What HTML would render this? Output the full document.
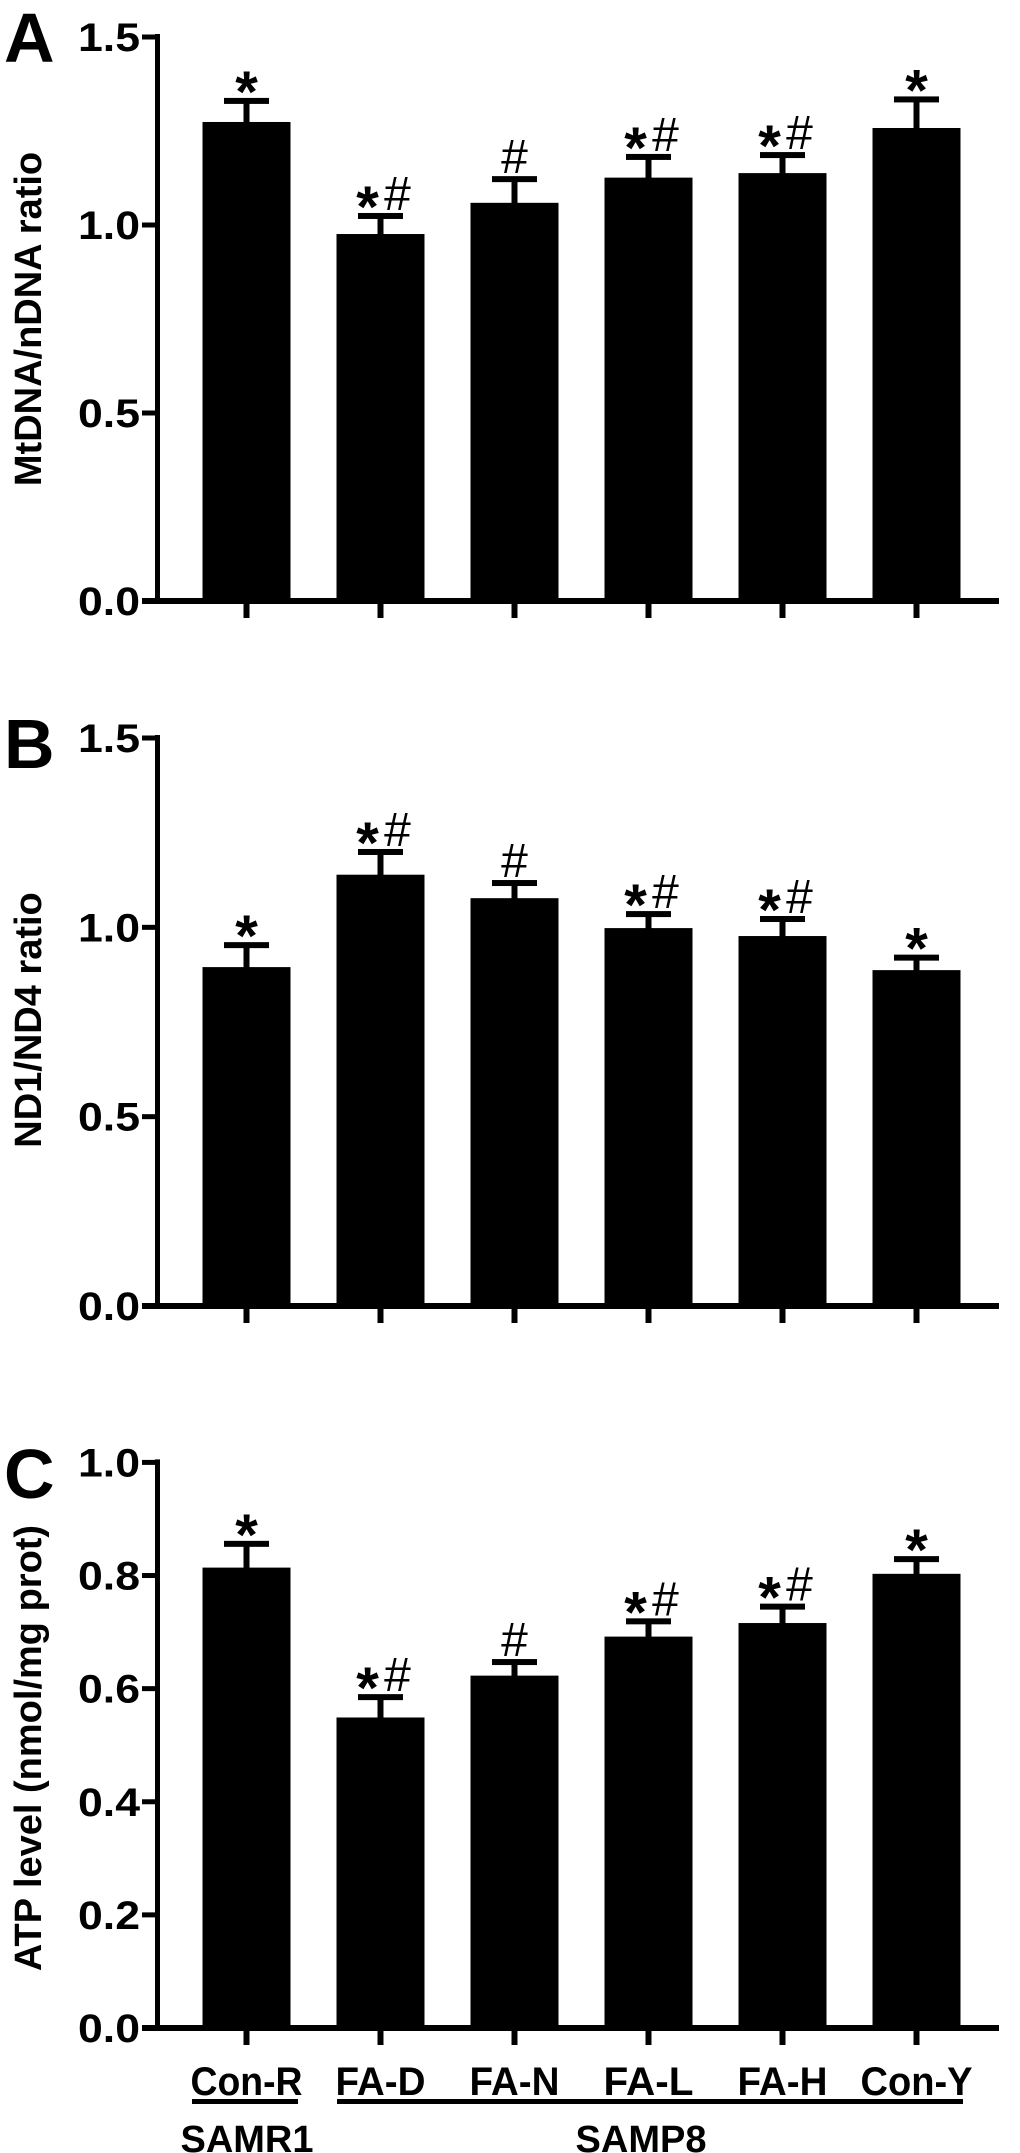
<!DOCTYPE html>
<html><head><meta charset="utf-8"><style>
html,body{margin:0;padding:0;background:#fff;}
svg{display:block;font-family:"Liberation Sans",Arial,sans-serif;}
</style></head><body>
<svg id="fig" width="1020" height="2153" viewBox="0 0 1020 2153" xmlns="http://www.w3.org/2000/svg"></svg>
<script>
const categories = ["Con-R","FA-D","FA-N","FA-L","FA-H","Con-Y"];
const valuesA = [1.274,0.976,1.059,1.126,1.138,1.258];
const errA = [0.056,0.048,0.063,0.055,0.048,0.076];
const marksA = ["*","*#","#","*#","*#","*"];
const ticksA = [0,0.5,1.0,1.5];
const tickLabelsA = ["0.0","0.5","1.0","1.5"];
const valuesB = [0.895,1.139,1.077,0.998,0.977,0.887];
const errB = [0.058,0.060,0.040,0.037,0.045,0.033];
const marksB = ["*","*#","#","*#","*#","*"];
const ticksB = [0,0.5,1.0,1.5];
const tickLabelsB = ["0.0","0.5","1.0","1.5"];
const valuesC = [0.814,0.549,0.623,0.692,0.716,0.803];
const errC = [0.042,0.036,0.024,0.027,0.029,0.026];
const marksC = ["*","*#","#","*#","*#","*"];
const ticksC = [0,0.2,0.4,0.6,0.8,1.0];
const tickLabelsC = ["0.0","0.2","0.4","0.6","0.8","1.0"];

const NS="http://www.w3.org/2000/svg";
const svg=document.getElementById('fig');
function mk(tag,attrs,parent){const e=document.createElementNS(NS,tag);for(const k in attrs)e.setAttribute(k,attrs[k]);(parent||svg).appendChild(e);return e;}

function panel(cfg){
  const g=mk('g',{});
  
  
  const y0=cfg.y0, ytop=cfg.ytop, vmax=cfg.vmax;
  const yS=v=>y0-(v/vmax)*(y0-ytop);
  const xS=i=>246.5+i*134;
  const L=mk('text',{x:4,y:cfg.letterY,'font-size':70,'font-weight':'bold'},g);L.textContent=cfg.letter;
  
  
  const T=mk('text',{x:0,y:0,'font-size':38,'font-weight':'bold','text-anchor':'middle',transform:`translate(41,${cfg.titleY}) rotate(-90)`},g);T.textContent=cfg.title;
  
  
  cfg.values.forEach((v,i)=>{
    const cx=xS(i), top=yS(v), capY=yS(v+cfg.err[i]);
    const b=mk('rect',{x:cx-44,y:top,width:88,height:y0-top,fill:'#000'},g);
    
    
    const s=mk('rect',{x:cx-3,y:capY,width:6,height:top-capY+1,fill:'#000'},g);
    
    
    const c=mk('rect',{x:cx-22.5,y:capY-3,width:45,height:6,fill:'#000'},g);
    
    
    const m=cfg.marks[i], capTop=capY-3;
    const hasStar=m.indexOf('*')>=0, hasHash=m.indexOf('#')>=0;
    const both=hasStar&&hasHash;
    if(hasStar){const t=mk('text',{x:both?cx-13:cx,y:capTop+14,'font-size':58,'font-weight':'bold','text-anchor':'middle'},g);t.textContent='*';
      
      }
    if(hasHash){const t=mk('text',{x:both?cx+17:cx,y:capTop-3,'font-size':48,'text-anchor':'middle'},g);t.textContent='#';
      
      }
    const tk=mk('rect',{x:cx-3,y:y0,width:6,height:17,fill:'#000'},g);
    
    
  });
  const ya=mk('rect',{x:155,y:ytop-3,width:5,height:y0-ytop+6,fill:'#000'},g);
  
  
  const xa=mk('rect',{x:142,y:y0-3,width:857,height:6,fill:'#000'},g);
  
  
  cfg.ticks.forEach((t,i)=>{
    const y=yS(t);
    const tk=mk('rect',{x:142,y:y-2.5,width:15,height:5,fill:'#000'},g);
    
    
    const lb=mk('text',{x:140,y:y+14,'font-size':40,'font-weight':'bold','text-anchor':'end',textLength:62,lengthAdjust:'spacingAndGlyphs'},g);lb.textContent=cfg.tickLabels[i];
    
    
  });
}
panel({letter:'A',letterY:62,title:'MtDNA/nDNA ratio',titleY:319,y0:601,ytop:37,vmax:1.5,values:valuesA,err:errA,marks:marksA,ticks:ticksA,tickLabels:tickLabelsA});
panel({letter:'B',letterY:768,title:'ND1/ND4 ratio',titleY:1020,y0:1306,ytop:738,vmax:1.5,values:valuesB,err:errB,marks:marksB,ticks:ticksB,tickLabels:tickLabelsB});
panel({letter:'C',letterY:1498,title:'ATP level (nmol/mg prot)',titleY:1748,y0:2028,ytop:1462.4,vmax:1.0,values:valuesC,err:errC,marks:marksC,ticks:ticksC,tickLabels:tickLabelsC});

categories.forEach((c,i)=>{
  const t=mk('text',{x:246.5+i*134,y:2095,'font-size':40,'font-weight':'bold','text-anchor':'middle',textLength:(c.length===5?112:90),lengthAdjust:'spacingAndGlyphs'});
  t.textContent=c;
  
  
});
const l1=mk('rect',{x:192,y:2099,width:106,height:5,fill:'#000'});


const l2=mk('rect',{x:337,y:2099,width:626,height:5,fill:'#000'});


const g1=mk('text',{x:247,y:2152,'font-size':38,'font-weight':'bold','text-anchor':'middle'});g1.textContent='SAMR1';


const g2=mk('text',{x:641,y:2152,'font-size':38,'font-weight':'bold','text-anchor':'middle'});g2.textContent='SAMP8';


</script>
</body></html>
